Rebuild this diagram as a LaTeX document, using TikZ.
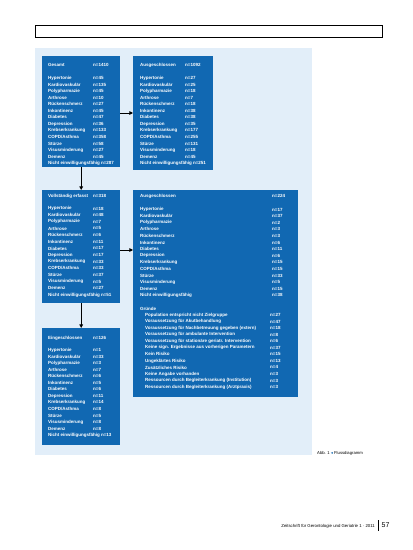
\documentclass[tikz,border=0pt]{standalone}
\usepackage{fontspec}
\setmainfont{Liberation Sans}
\newfontfamily\dejavu{DejaVu Sans}
\usetikzlibrary{arrows.meta}
\definecolor{boxblue}{RGB}{17,104,178}
\definecolor{bglight}{RGB}{226,238,249}
\begin{document}
\begin{tikzpicture}[x=1pt,y=-1pt,
  box/.style={fill=boxblue, draw=none, anchor=north west, inner sep=0pt},
  txt/.style={text=white, font=\fontsize{4.5}{5}\selectfont\bfseries, anchor=west, inner sep=0pt},
  arr/.style={draw=black, line width=0.9pt, -{Triangle[length=3.6pt,width=3.6pt]}},
  small/.style={text=black, font=\fontsize{4.2}{5}\selectfont, inner sep=0pt}]
\useasboundingbox (0,0) rectangle (413,550);
\fill[white] (0,0) rectangle (413,550);
% top frame
\node[draw=black, line width=0.8pt, fill=white, anchor=north west, inner sep=0pt,
  minimum width=347pt, minimum height=12pt] (top) at (35,25) {};
% light background
\node[fill=bglight, anchor=north west, inner sep=0pt, minimum width=277pt, minimum height=407pt] (bg) at (35,48) {};
% boxes
\node[box, minimum width=78pt, minimum height=111pt] (A) at (42,56) {};
\node[box, minimum width=80pt, minimum height=114pt] (B) at (133,56) {};
\node[box, minimum width=78pt, minimum height=113pt] (C) at (42,190) {};
\node[box, minimum width=165pt, minimum height=207pt] (D) at (133,190) {};
\node[box, minimum width=78pt, minimum height=117pt] (E) at (42,328) {};
% connectors
\draw[arr] (A.east |- 0,113) -- (B.west |- 0,113);
\draw[arr] (A.south) -- (C.north);
\draw[arr] (C.east |- 0,250) -- (D.west |- 0,250);
\draw[arr] (C.south) -- (E.north);
% Box A
\node[txt] (A-h) at (48,65) {Gesamt};
\node[txt] (A-hv) at (93,65) {n=1410};
\foreach [count=\i] \l/\v in {Hypertonie/45,Kardiovaskulär/135,Polypharmazie/45,Arthrose/10,Rückenschmerz/27,Inkontinenz/45,Diabetes/47,Depression/36,Krebserkrankung/133,COPD\slash Asthma/358,Stürze/58,Visusminderung/27,Demenz/45,Nicht einwilligungsfähig/287}{
  \node[txt] (A-l\i) at (48,{78+(\i-1)*6.55}) {\l};
  \ifnum\i<14 \node[txt] (A-v\i) at (93,{78+(\i-1)*6.55}) {n=\v};
  \else \node[txt,anchor=west] (A-v\i) at (A-l\i.east) {\,n=\v};\fi
}
% Box B
\node[txt] (B-h) at (140,65) {Ausgeschlossen};
\node[txt] (B-hv) at (185,65) {n=1092};
\foreach [count=\i] \l/\v in {Hypertonie/27,Kardiovaskulär/25,Polypharmazie/18,Arthrose/7,Rückenschmerz/18,Inkontinenz/38,Diabetes/38,Depression/35,Krebserkrankung/177,COPD\slash Asthma/255,Stürze/131,Visusminderung/18,Demenz/45,Nicht einwilligungsfähig/251}{
  \node[txt] (B-l\i) at (140,{78+(\i-1)*6.55}) {\l};
  \ifnum\i<14 \node[txt] (B-v\i) at (185,{78+(\i-1)*6.55}) {n=\v};
  \else \node[txt,anchor=west] (B-v\i) at (B-l\i.east) {\,n=\v};\fi
}
% Box C
\node[txt] (C-h) at (48,196) {Vollständig erfasst};
\node[txt] (C-hv) at (93,196) {n=318};
\foreach [count=\i] \l/\v in {Hypertonie/18,Kardiovaskulär/48,Polypharmazie/7,Arthrose/5,Rückenschmerz/6,Inkontinenz/11,Diabetes/17,Depression/17,Krebserkrankung/33,COPD\slash Asthma/33,Stürze/37,Visusminderung/5,Demenz/27,Nicht einwilligungsfähig/51}{
  \node[txt] (C-l\i) at (48,{208.5+(\i-1)*6.65}) {\l};
  \ifnum\i<14 \node[txt] (C-v\i) at (93,{208.5+(\i-1)*6.65}) {n=\v};
  \else \node[txt,anchor=west] (C-v\i) at (C-l\i.east) {\,n=\v};\fi
}
% Box D
\node[txt] (D-h) at (140,196) {Ausgeschlossen};
\node[txt] (D-hv) at (272,196) {n=224};
\foreach [count=\i] \l/\v in {Hypertonie/17,Kardiovaskulär/37,Polypharmazie/2,Arthrose/3,Rückenschmerz/3,Inkontinenz/6,Diabetes/11,Depression/6,Krebserkrankung/15,COPD\slash Asthma/15,Stürze/33,Visusminderung/5,Demenz/15,Nicht einwilligungsfähig/38}{
  \node[txt] (D-l\i) at (140,{209.5+(\i-1)*6.6}) {\l};
  \node[txt] (D-v\i) at (272,{209.5+(\i-1)*6.6}) {n=\v};
}
\node[txt] (D-g) at (140,308.5) {Gründe};
\foreach [count=\i] \l/\v in {Population entspricht nicht Zielgruppe/27,Voraussetzung für Akutbehandlung/47,Voraussetzung für Nachbetreuung gegeben (extern)/18,Voraussetzung für ambulante Intervention/8,Voraussetzung für stationäre geriatr. Intervention/6,Keine sign. Ergebnisse aus vorherigen Parametern/37,Kein Risiko/15,Ungeklärtes Risiko/13,Zusätzliches Risiko/4,Keine Angabe vorhanden/3,Ressourcen durch Begleiterkrankung (Institution)/3,Ressourcen durch Begleiterkrankung (Arztpraxis)/3}{
  \node[txt] (G-l\i) at (145,{315+(\i-1)*6.55}) {\l};
  \node[txt] (G-v\i) at (270,{315+(\i-1)*6.55}) {n=\v};
}
% Box E
\node[txt] (E-h) at (48,338) {Eingeschlossen};
\node[txt] (E-hv) at (93,338) {n=126};
\foreach [count=\i] \l/\v in {Hypertonie/1,Kardiovaskulär/33,Polypharmazie/3,Arthrose/7,Rückenschmerz/6,Inkontinenz/5,Diabetes/6,Depression/11,Krebserkrankung/14,COPD\slash Asthma/8,Stürze/5,Visusminderung/8,Demenz/8,Nicht einwilligungsfähig/13}{
  \node[txt] (E-l\i) at (48,{350+(\i-1)*6.55}) {\l};
  \ifnum\i<14 \node[txt] (E-v\i) at (93,{350+(\i-1)*6.55}) {n=\v};
  \else \node[txt,anchor=west] (E-v\i) at (E-l\i.east) {\,n=\v};\fi
}
% caption
\node[small, anchor=west] (cap) at (317,453) {Abb. 1 {\color{boxblue}\dejavu ◂} Flussdiagramm};
% footer
\node[small, anchor=east, font=\fontsize{4.3}{5}\selectfont] (foot) at (375,526) {Zeitschrift für Gerontologie und Geriatrie 1 · 2011};
\node[fill=black, inner sep=0pt, minimum width=1.6pt, minimum height=11pt] (bar) at (378.5,525) {};
\node[small, anchor=west, font=\fontsize{7}{8}\selectfont] (page) at (381.5,525.5) {57};
\end{tikzpicture}
\end{document}
